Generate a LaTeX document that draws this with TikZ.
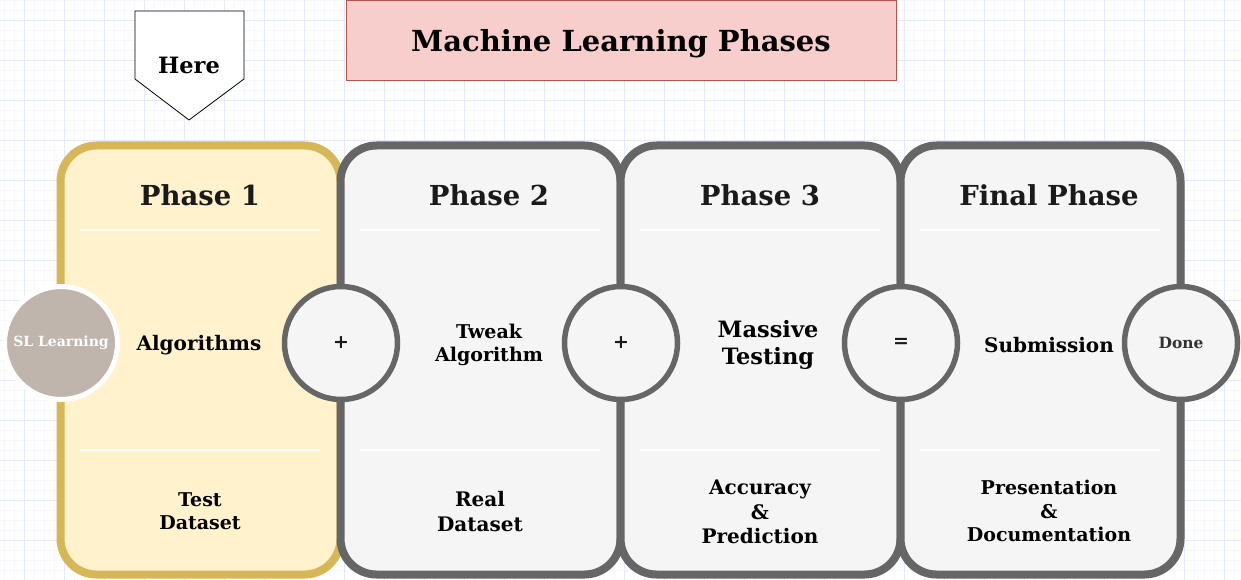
\documentclass[tikz,border=0pt]{standalone}
\usepackage{fontspec}
\setmainfont{DejaVu Serif}
\usetikzlibrary{shapes.geometric}
\definecolor{gridminor}{HTML}{F6F8FE}
\definecolor{gridmajor}{HTML}{E2EAFB}
\definecolor{titlefill}{HTML}{F8CECC}
\definecolor{titlestroke}{HTML}{B85450}
\definecolor{yfill}{HTML}{FFF2CC}
\definecolor{ystroke}{HTML}{D6B656}
\definecolor{gfill}{HTML}{F5F5F5}
\definecolor{gstroke}{HTML}{666666}
\definecolor{slfill}{HTML}{BFB5AD}
\definecolor{headtext}{HTML}{1A1A1A}
\newcommand{\fs}[2]{\fontsize{#1}{#2}\selectfont\bfseries}
\tikzset{
  phasebox/.style={line width=8pt, rounded corners=36pt},
  divider/.style={white, line width=2pt},
  head/.style={font=\fs{27.5}{32}, text=headtext, inner sep=0pt},
  body/.style={font=\fs{20}{24}, align=center, inner sep=0pt},
  opcircle/.style={circle, minimum size=113pt, inner sep=0pt, line width=5.5pt, draw=gstroke, fill=gfill, font=\fs{19}{22}, text=headtext},
}
\begin{document}
\begin{tikzpicture}[x=1pt,y=-1pt]
\useasboundingbox (0,0) rectangle (1241,580);
% grid
\foreach \i in {0,...,124} {\draw[gridminor, line width=0.6pt] ({4+10*\i},0) -- ({4+10*\i},580);}
\foreach \j in {0,...,58} {\draw[gridminor, line width=0.6pt] (0,{10*\j}) -- (1241,{10*\j});}
\foreach \i in {0,...,30} {\draw[gridmajor, line width=0.8pt] ({24+40*\i},0) -- ({24+40*\i},580);}
\foreach \j in {0,...,14} {\draw[gridmajor, line width=0.8pt] (0,{20+40*\j}) -- (1241,{20+40*\j});}

% title
\node[draw=titlestroke, fill=titlefill, line width=1pt, minimum width=550pt, minimum height=80pt, anchor=north west, inner sep=0pt] (title) at (346,0) {};
\node[font=\fs{29}{34}, inner sep=0pt] (titletext) at (621,44) {Machine Learning Phases};

% here marker
\draw[fill=white, line width=0.8pt] (135,11) -- (244,11) -- (244,79) -- (189,120) -- (135,79) -- cycle;
\node[font=\fs{22.5}{26}, inner sep=0pt] (here) at (189,65) {Here};

% phase boxes
\draw[phasebox, draw=ystroke, fill=yfill] (60.5,145.5) rectangle (340.5,574.5);
\draw[phasebox, draw=gstroke, fill=gfill] (340.5,145.5) rectangle (620.5,574.5);
\draw[phasebox, draw=gstroke, fill=gfill] (620.5,145.5) rectangle (900.5,574.5);
\draw[phasebox, draw=gstroke, fill=gfill] (900.5,145.5) rectangle (1180.5,574.5);

\foreach \x in {80,360,640,920} {
  \draw[divider] (\x,230) -- ({\x+240},230);
  \draw[divider] (\x,450) -- ({\x+240},450);
}

% headings
\node[head] (h1) at (200,195.5) {Phase 1};
\node[head] (h2) at (489,195.5) {Phase 2};
\node[head] (h3) at (760,195.5) {Phase 3};
\node[head] (h4) at (1049,195.5) {Final Phase};

% middle texts
\node[body] (m1) at (199,345.5) {Algorithms};
\node[body, font=\fs{19}{23}] (m2) at (489,345) {Tweak\\Algorithm};
\node[body, font=\fs{22.5}{27}] (m3) at (768,345) {Massive\\Testing};
\node[body] (m4) at (1049,345) {Submission};

% bottom texts
\node[body, font=\fs{19}{22.5}] (b1) at (200,511) {Test\\Dataset};
\node[body, font=\fs{20}{25}] (b2) at (480,512) {Real\\Dataset};
\node[body, font=\fs{20}{24.5}] (b3) at (760,512) {Accuracy\\\&\\Prediction};
\node[body, font=\fs{19}{23.5}] (b4) at (1049,511) {Presentation\\\&\\Documentation};

% circles
\node[circle, minimum size=113pt, inner sep=0pt, line width=5pt, draw=white, fill=slfill, text=white, font=\fs{14}{16}] (sl) at (61,343) {SL Learning};
\node[opcircle] (c1) at (341,343) {+};
\node[opcircle] (c2) at (621,343) {+};
\node[opcircle] (c3) at (901,343) {=};
\node[opcircle, font=\fs{15.5}{18}, text=black!80] (c4) at (1181,343) {Done};
\end{tikzpicture}
\end{document}
